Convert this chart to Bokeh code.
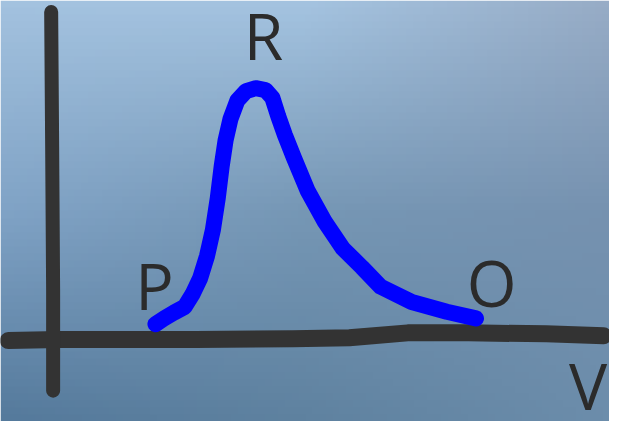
import numpy as np
from bokeh.plotting import figure
from bokeh.models import Range1d
from bokeh.core.properties import value
from bokeh.embed import file_html
from bokeh.resources import INLINE

W, H = 625, 437  # picture units; y values below are measured downward then flipped

# blue curve (V, value), in picture units
curve_x = [159, 168, 178, 189, 197, 205, 212, 218, 223, 227, 231, 236, 243, 252, 262, 272, 279, 285, 292, 301, 315, 333, 351, 371, 390, 422, 458, 488]
curve_y = [336, 330, 324, 318, 305, 288, 265, 238, 205, 172, 145, 123, 104, 94, 91, 93, 101, 120, 140, 163, 197, 230, 257, 277, 297, 313, 323, 330]

# hand-drawn axes
haxis_x = [8, 60, 200, 300, 358, 418, 480, 560, 619]
haxis_y = [353, 352, 352, 351, 350, 345, 345, 346, 348]
vaxis_x = [52, 53, 54, 54]
vaxis_y = [12, 150, 300, 405]

labels = ["P", "R", "O"]
label_x = [158, 270, 504]
label_y = [296, 36, 293]
axis_label = "V"
axis_label_x = [603]
axis_label_y = [400]

p = figure(width=609, height=421, output_backend="svg", toolbar_location=None,
           x_range=Range1d(0, W), y_range=Range1d(0, H),
           min_border=0)
p.axis.visible = False
p.grid.visible = False
p.outline_line_color = None

# background gradient
ny, nx = 60, 90
top = np.array([[0xa3, 0xc2, 0xdf], [0xa4, 0xc3, 0xe0], [0x97, 0xac, 0xc6]], float)
mid = np.array([[0x80, 0xa3, 0xc6], [0x76, 0x97, 0xb5], [0x76, 0x92, 0xb0]], float)
bot = np.array([[0x55, 0x7a, 0x9c], [0x5f, 0x82, 0xa0], [0x6c, 0x8d, 0xab]], float)
rows = np.stack([bot, mid, top])  # bottom to top
ys = np.linspace(0, 2, ny)
xs = np.linspace(0, 2, nx)
img = np.zeros((ny, nx), dtype=np.uint32)
view = img.view(dtype=np.uint8).reshape((ny, nx, 4))
for j, yy in enumerate(ys):
    j0 = min(int(yy), 1); fy = yy - j0
    rowc = rows[j0] * (1 - fy) + rows[j0 + 1] * fy
    for i, xx in enumerate(xs):
        i0 = min(int(xx), 1); fx = xx - i0
        c = rowc[i0] * (1 - fx) + rowc[i0 + 1] * fx
        view[j, i, 0:3] = c.astype(np.uint8)
        view[j, i, 3] = 255
p.image_rgba(image=[img], x=0, y=0, dw=W, dh=H)

p.line(haxis_x, [H - y for y in haxis_y], line_color="#333333",
       line_width=17, line_cap="round", line_join="round")
p.line(vaxis_x, [H - y for y in vaxis_y], line_color="#333333",
       line_width=14, line_cap="round", line_join="round")
p.line(curve_x, [H - y for y in curve_y], line_color="#0000ff",
       line_width=16, line_cap="round", line_join="round")

p.text(x=label_x, y=[H - y for y in label_y], text=labels,
       text_font=value("Open Sans"), text_font_size="64px", text_color="#2b2b2b",
       text_align="center", text_baseline="middle")
p.text(x=axis_label_x, y=[H - y for y in axis_label_y], text=[axis_label],
       text_font=value("Open Sans"), text_font_size="64px", text_color="#2b2b2b",
       text_align="center", text_baseline="middle")

open("out.html", "w").write(file_html(p, INLINE))
